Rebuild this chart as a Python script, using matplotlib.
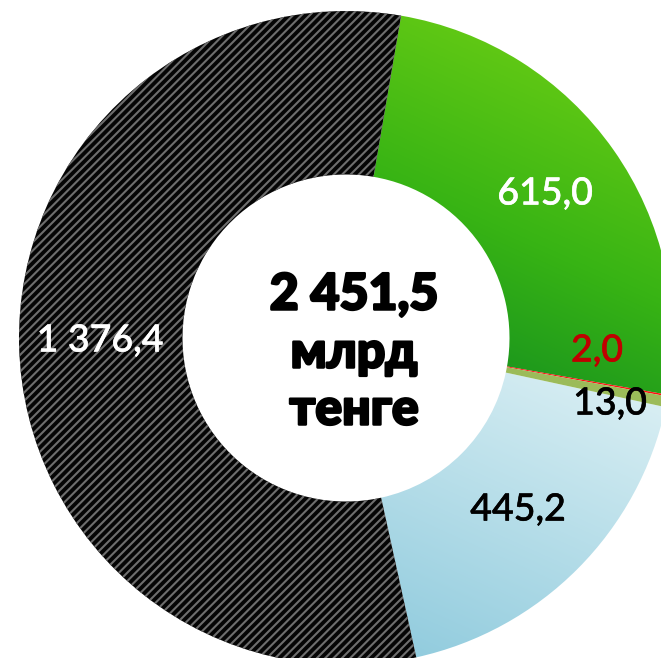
import numpy as np
import matplotlib
matplotlib.use("Agg")
import matplotlib.pyplot as plt
import matplotlib.patheffects as pe
from matplotlib.colors import LinearSegmentedColormap

# Data
categories = ["A", "B", "C", "D", "E"]
values = [615.0, 2.0, 13.0, 445.2, 1376.4]
labels = ["615,0", "2,0", "13,0", "445,2", "1 376,4"]
label_colors = ["white", "#C00000", "black", "black", "white"]
total_lines = ["2 451,5", "млрд", "тенге"]

plt.rcParams["hatch.linewidth"] = 1.5

W, H = 661, 658
fig = plt.figure(figsize=(W / 100, H / 100), dpi=100)
ax = fig.add_axes([0, 0, 1, 1])

cx, cy = 346, H - 338
R = 327
ring = 0.5

wedges, _ = ax.pie(values, radius=R, center=(cx, cy), startangle=80.3,
                   counterclock=False,
                   colors=["none", "#FF1010", "#9BBB59", "none", "#050505"],
                   wedgeprops=dict(width=R * ring, linewidth=0, edgecolor="none"),
                   frame=True)
ax.set_xlim(0, W)
ax.set_ylim(0, H)
ax.axis("off")

# hatch for the big black segment
wedges[4].set_hatch("////")
wedges[4].set_edgecolor("#6e6e6e")
wedges[4].set_linewidth(0)

def gradient_fill(wedge, c_light, c_dark, direction, c_mid=None):
    cols = [c_dark, c_mid, c_light] if c_mid else [c_dark, c_light]
    cmap = LinearSegmentedColormap.from_list("g", cols)
    xs = np.arange(W) + 0.5
    ys = np.arange(H) + 0.5
    X, Y = np.meshgrid(xs, ys)
    dx, dy = direction
    P = X * dx + Y * dy
    verts = wedge.get_path().vertices
    pv = verts[:, 0] * dx + verts[:, 1] * dy
    P = np.clip((P - pv.min()) / (pv.max() - pv.min()), 0, 1)
    im = ax.imshow(P, extent=(0, W, 0, H), origin="lower", cmap=cmap,
                   interpolation="bilinear", zorder=1, aspect="auto",
                   vmin=0, vmax=1)
    im.set_clip_path(wedge)

d = np.array([0.45, 1.0]); d = d / np.linalg.norm(d)
gradient_fill(wedges[0], "#60C815", "#16911F", d, c_mid="#38B414")
d2 = np.array([0.45, 1.0]); d2 = d2 / np.linalg.norm(d2)
gradient_fill(wedges[3], "#D8EEF3", "#92CCDE", d2)

wedges[0].set_zorder(0)
wedges[3].set_zorder(0)
for i in (1, 2, 4):
    wedges[i].set_zorder(2)

label_pos = [(545, 194), (597, 351), (610, 404), (518, 510), (100, 341)]
for (x, y), t, c in zip(label_pos, labels, label_colors):
    ax.text(x, H - y, t, color=c, fontsize=27, family=["Lato", "DejaVu Sans"],
            fontweight="medium", ha="center", va="center", zorder=5,
            path_effects=[pe.withStroke(linewidth=0.4, foreground=c)])

center_y = [295, 353, 410]
for t, y in zip(total_lines, center_y):
    ax.text(354, H - y, t, color="black", fontsize=36, fontweight="black",
            family=["Lato", "Noto Sans", "DejaVu Sans"],
            ha="center", va="center", zorder=5,
            path_effects=[pe.withStroke(linewidth=1.8, foreground="black")])

fig.savefig("out.png", dpi=100)
